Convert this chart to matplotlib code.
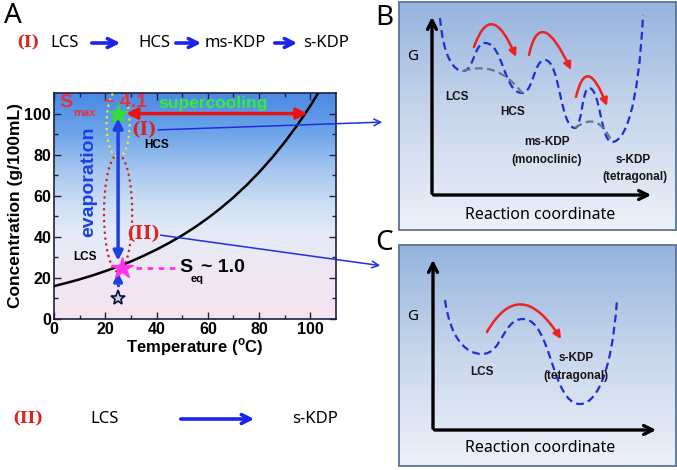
import numpy as np
import matplotlib
matplotlib.use('Agg')
import matplotlib.pyplot as plt
from matplotlib.colors import LinearSegmentedColormap
from matplotlib.patches import Ellipse, Rectangle, FancyArrowPatch, PathPatch
from matplotlib.path import Path

# solubility curve
temp = [0, 5, 10, 15, 20, 25, 30, 35, 40, 45, 50, 55, 60, 65, 70, 75, 80, 85, 90, 95, 100, 105]
conc = [16, 17.6, 19.3, 21.2, 23.3, 25.5, 28.0, 30.8, 33.8, 37.1, 40.7, 44.7, 49.1, 53.9, 59.2,
        65.0, 71.4, 78.4, 86.1, 94.5, 103.8, 114]
t_room = 25
c_max = 100
c_eq = 25
c_start = 10
t_cool = 100
ticks = [0, 20, 40, 60, 80, 100]

# energy landscapes (schematic, figure pixel coords): extrema of the G curves
b_pts = [(440, 18), (463, 71), (485, 43), (522, 93), (545, 60), (575, 128), (589, 88), (612, 142), (643, 15)]
b_labels = [('LCS', 457, 97), ('HCS', 513, 112), ('ms-KDP', 547, 142), ('(monoclinic)', 547, 160),
            ('s-KDP', 633, 160), ('(tetragonal)', 635, 177)]
c_pts = [(445, 300), (482, 354), (523, 319), (580, 404), (617, 300)]
c_labels = [('LCS', 482, 372), ('s-KDP', 576, 358), ('(tetragonal)', 576, 376)]

W, H = 677, 470
fig = plt.figure(figsize=(W / 100, H / 100), dpi=100)

ax = fig.add_axes([54 / W, (H - 319) / H, (336 - 54) / W, (319 - 93) / H])
bg = LinearSegmentedColormap.from_list('bg', [(0, '#f6e4ef'), (0.2, '#efe7f2'), (0.38, '#e4ebf7'),
                                              (0.5, '#cfe0f4'), (0.65, '#a8c8ef'), (0.82, '#6fa6ea'),
                                              (1, '#4a8ae4')])
ax.imshow(np.linspace(0, 1, 200).reshape(-1, 1), cmap=bg, origin='lower', aspect='auto',
          extent=[0, 110, 0, 110], zorder=0)
ax.set_xlim(0, 110)
ax.set_ylim(0, 110)
tick_font = dict(fontweight='bold', fontsize=11.5, family='Liberation Sans')
ax.set_xticks(ticks)
ax.set_xticklabels([str(t) for t in ticks], **tick_font)
ax.set_yticks(ticks)
ax.set_yticklabels([str(t) for t in ticks], **tick_font)
ax.set_xticks(range(10, 110, 20), minor=True)
ax.set_yticks(range(10, 110, 20), minor=True)
ax.tick_params(which='both', direction='in', top=True, right=True, width=1, color='#202040')
ax.tick_params(which='major', length=5, pad=2)
ax.tick_params(which='minor', length=3)
for s in ax.spines.values():
    s.set_color('#202040')
    s.set_linewidth(1.2)
ax.set_xlabel('Temperature ($^{\\mathregular{o}}$C)', fontsize=12, fontweight='bold',
              family='Liberation Sans', labelpad=0)
ax.set_ylabel('Concentration (g/100mL)', fontsize=12.5, fontweight='bold', family='Liberation Sans',
              labelpad=1)

ax.plot(temp, conc, color='black', lw=1.8, zorder=3)

# ellipses
ax.add_patch(Ellipse((t_room, 95), 9, 33, fill=False, ec='#e8e840', ls=':', lw=1.6, zorder=4))
ax.add_patch(Ellipse((t_room, 51.5), 11, 57, fill=False, ec='#cc2222', ls=':', lw=1.6, zorder=4))

# evaporation arrow
ax.annotate('', xy=(t_room, c_max - 1), xytext=(t_room, c_eq + 2),
            arrowprops=dict(arrowstyle='<|-|>', color='#1f3fe0', lw=2.5, mutation_scale=14), zorder=5)
ax.annotate('', xy=(t_room, c_eq - 1), xytext=(t_room, 17),
            arrowprops=dict(arrowstyle='-|>', color='#1f3fe0', lw=2.5, mutation_scale=12), zorder=5)
ax.plot([t_room, t_room], [c_start + 2, 17], color='#1f3fe0', lw=2, ls=':', zorder=5)

# supercooling arrow
ax.annotate('', xy=(t_cool, c_max), xytext=(t_room + 2, c_max),
            arrowprops=dict(arrowstyle='<|-|>', color='#ee1111', lw=2.5, mutation_scale=16), zorder=5)

ax.plot(t_room, c_max, marker='*', ms=14, color='#33dd33', mec='#33dd33', zorder=6)
ax.plot(t_room + 1.5, c_eq, marker='*', ms=16, color='#ff33ee', mec='#ff33ee', zorder=6)
ax.plot(t_room, c_start, marker='*', ms=11, color='#c8d0ff', mec='#101030', mew=1.2, zorder=6)
ax.plot([32, 48], [c_eq, c_eq], color='#ff33ee', lw=2, ls=(0, (2, 2)), zorder=4)

ax.text(13.5, 67, 'evaporation', rotation=90, color='#1f3fe0', fontsize=14, fontweight='bold',
        family='Liberation Sans', ha='center', va='center', zorder=6)
ax.text(62, 105, 'supercooling', color='#33ee33', fontsize=12.5, fontweight='bold',
        family='Liberation Sans', ha='center', va='center', zorder=6)
ax.text(2, 105.5, 'S', color='#e8303a', fontsize=14, fontweight='bold', family='Liberation Sans',
        ha='left', va='center', zorder=6)
ax.text(7.5, 100.5, 'max', color='#e8303a', fontsize=8, fontweight='bold', family='Liberation Sans',
        ha='left', va='center', zorder=6)
ax.text(19, 105.5, '~ 4.1', color='#e8303a', fontsize=14, fontweight='bold', family='Liberation Sans',
        ha='left', va='center', zorder=6)
ax.text(49, 25, 'S', color='black', fontsize=14, fontweight='bold', family='Liberation Sans',
        ha='left', va='center', zorder=6)
ax.text(53.2, 19.5, 'eq', color='black', fontsize=8, fontweight='bold', family='Liberation Sans',
        ha='left', va='center', zorder=6)
ax.text(57.5, 25, '~ 1.0', color='black', fontsize=14, fontweight='bold', family='Liberation Sans',
        ha='left', va='center', zorder=6)
ax.text(35, 92, '(I)', color='#dd2222', fontsize=13, fontweight='bold', family='DejaVu Serif',
        ha='center', va='center', zorder=6)
ax.text(40, 84.5, 'HCS', color='black', fontsize=8.5, fontweight='bold', family='Liberation Sans',
        ha='center', va='center', zorder=6)
ax.text(35, 41.5, '(II)', color='#dd2222', fontsize=13, fontweight='bold', family='DejaVu Serif',
        ha='center', va='center', zorder=6)
ax.text(12, 30, 'LCS', color='black', fontsize=8.5, fontweight='bold', family='Liberation Sans',
        ha='center', va='center', zorder=6)

# overlay in pixel coords
ov = fig.add_axes([0, 0, 1, 1], zorder=5)
ov.set_xlim(0, W)
ov.set_ylim(H, 0)
ov.axis('off')
ov.patch.set_alpha(0)

ov.annotate('', xy=(385, 122), xytext=(39.5, 92), textcoords=ax.transData,
            arrowprops=dict(arrowstyle='->', color='#1f2fe0', lw=1.1, mutation_scale=12))
ov.annotate('', xy=(383, 266), xytext=(40.5, 41), textcoords=ax.transData,
            arrowprops=dict(arrowstyle='->', color='#1f2fe0', lw=1.1, mutation_scale=12))

for letter, x, y in [('A', 4, 16), ('B', 375, 18), ('C', 375, 243)]:
    ov.text(x, y, letter, fontsize=20, family='Noto Sans', ha='left', va='center')

# reaction schemes
sty = dict(fontsize=12, family='Noto Sans', va='center')
ov.text(28, 43, '(I)', color='#dd2222', fontsize=12, fontweight='bold', family='DejaVu Serif',
        ha='center', va='center')
ov.text(50, 43, 'LCS', ha='left', **sty)
ov.text(138, 43, 'HCS', ha='left', **sty)
ov.text(205, 43, 'ms-KDP', ha='left', **sty)
ov.text(303, 43, 's-KDP', ha='left', **sty)
ov.text(28, 419, '(II)', color='#dd2222', fontsize=12, fontweight='bold', family='DejaVu Serif',
        ha='center', va='center')
ov.text(90, 419, 'LCS', ha='left', **sty)
ov.text(292, 419, 's-KDP', ha='left', **sty)
for x0, x1, y in [(89, 123, 43), (173, 204, 43), (272, 300, 43), (178, 257, 419)]:
    ov.annotate('', xy=(x1, y), xytext=(x0, y),
                arrowprops=dict(arrowstyle='->', color='#1a22ee', lw=2.6, mutation_scale=16))

box = LinearSegmentedColormap.from_list('box', ['#edf1f9', '#c9d7ec', '#96b4de'])
grad = np.linspace(0, 1, 200).reshape(-1, 1)


def energy_path(pts, steep_ends=True):
    verts = [pts[0]]
    codes = [Path.MOVETO]
    for i in range(1, len(pts)):
        (xa, ya), (xb, yb) = pts[i - 1], pts[i]
        d = (xb - xa) / 2
        if i == 1 and steep_ends:
            c1, c2 = (xa + 0.15 * (xb - xa), ya + 0.75 * (yb - ya)), (xb - d * 0.8, yb)
        elif i == len(pts) - 1 and steep_ends:
            c1, c2 = (xa + d * 0.8, ya), (xb - 0.15 * (xb - xa), yb - 0.75 * (yb - ya))
        else:
            c1, c2 = (xa + d, ya), (xb - d, yb)
        verts += [c1, c2, (xb, yb)]
        codes += [Path.CURVE4] * 3
    return Path(verts, codes)


def red_arc(x0, y0, xp, yp, x1, y1):
    ctrl = (2 * xp - (x0 + x1) / 2, 2 * yp - (y0 + y1) / 2)
    p = Path([(x0, y0), ctrl, (x1, y1)], [Path.MOVETO, Path.CURVE3, Path.CURVE3])
    ov.add_patch(FancyArrowPatch(path=p, arrowstyle='-|>', color='#ee2222', lw=1.8,
                                 mutation_scale=11, transform=ov.transData))


def panel(top, bottom, axis_x, axis_y, axis_top, axis_right, g_y, rc_y):
    ov.imshow(grad, cmap=box, origin='lower', aspect='auto', extent=[399, 676, bottom, top], zorder=0)
    ov.add_patch(Rectangle((399, top), 277, bottom - top, fill=False, ec='#5a7394', lw=1.3))
    ov.annotate('', xy=(axis_x, axis_top), xytext=(axis_x, axis_y + 1.2),
                arrowprops=dict(arrowstyle='->', color='black', lw=2.4, mutation_scale=16))
    ov.annotate('', xy=(axis_right, axis_y), xytext=(axis_x - 1.2, axis_y),
                arrowprops=dict(arrowstyle='->', color='black', lw=2.4, mutation_scale=16))
    ov.text(413, g_y, 'G', fontsize=11, family='Noto Sans', ha='center', va='center')
    ov.text(540, rc_y, 'Reaction coordinate', fontsize=11.5, family='Noto Sans', ha='center', va='center')


panel(2, 230, 432, 195, 14, 654, 57, 215)
panel(245, 466, 433, 430, 257, 659, 317, 448)
ov.set_xlim(0, W)
ov.set_ylim(H, 0)

ov.add_patch(PathPatch(energy_path(b_pts), fill=False, ec='#2030d0', lw=1.6, ls=(0, (3.5, 2))))
ov.add_patch(PathPatch(Path([(463, 71), (485, 64), (505, 70), (522, 93)],
                            [Path.MOVETO] + [Path.CURVE4] * 3),
                       fill=False, ec='#5f7894', lw=1.6, ls=(0, (3.5, 2))))
ov.add_patch(PathPatch(Path([(575, 128), (590, 117), (601, 119), (612, 142)],
                            [Path.MOVETO] + [Path.CURVE4] * 3),
                       fill=False, ec='#5f7894', lw=1.6, ls=(0, (3.5, 2))))
ov.add_patch(PathPatch(energy_path(c_pts), fill=False, ec='#2030d0', lw=1.6, ls=(0, (3.5, 2))))

red_arc(474, 47, 493, 25, 516, 57)
red_arc(529, 55, 545, 33, 571, 70)
red_arc(576, 97, 589, 77, 607, 106)
red_arc(487, 332, 522, 305, 561, 339)

for lab, x, y in b_labels + c_labels:
    ov.text(x, y, lab, fontsize=8.5, fontweight='bold', family='Liberation Sans', color='#151515',
            ha='center', va='center')

fig.savefig('out.png', dpi=100)
